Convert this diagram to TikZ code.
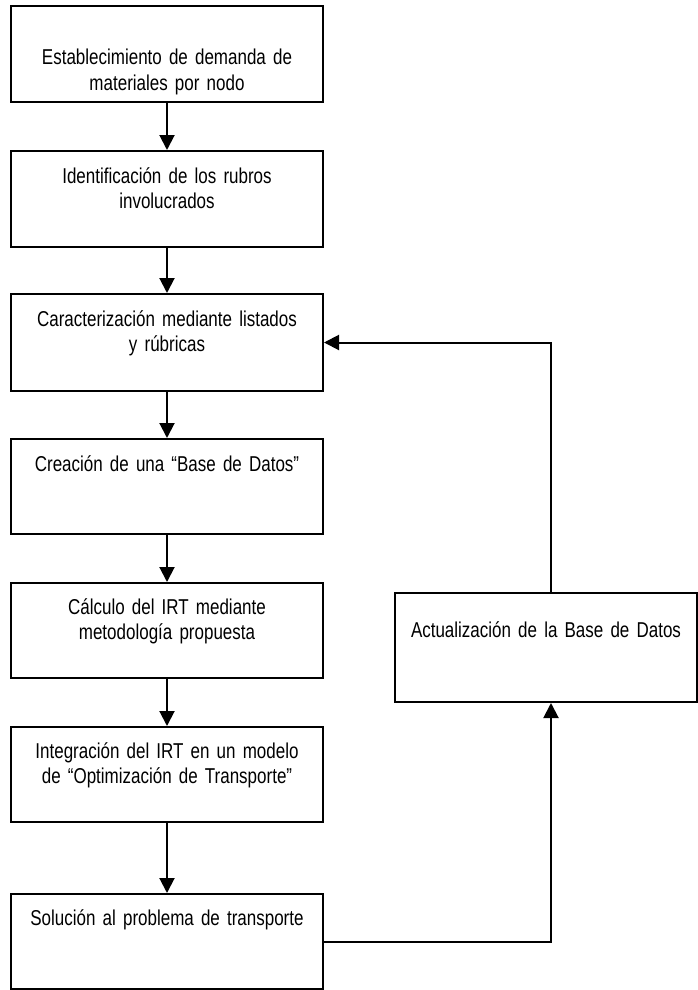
\documentclass[tikz,border=0pt]{standalone}
\usepackage{fontspec}
\setmainfont{Liberation Sans}[FakeStretch=0.79]
\usetikzlibrary{arrows.meta}
\begin{document}
\begin{tikzpicture}[x=1pt,y=-1pt,
  box/.style={draw,line width=2pt,rectangle,inner sep=0pt,minimum width=312pt},
  txt/.style={anchor=base,inner sep=0pt,text width=300pt,align=center,
    font=\fontsize{21.5}{25}\selectfont},
  arr/.style={line width=2pt,-{Triangle[length=15pt,width=15pt]}}]
\useasboundingbox (0,0) rectangle (698,990);

% main column of steps
\node[box,minimum height=96pt] (b1) at (167,54) {};
\node[box,minimum height=96pt] (b2) at (167,199) {};
\node[box,minimum height=97pt] (b3) at (167,342.5) {};
\node[box,minimum height=95pt] (b4) at (167,486.5) {};
\node[box,minimum height=95pt] (b5) at (167,630.5) {};
\node[box,minimum height=95pt] (b6) at (167,774.5) {};
\node[box,minimum height=95pt] (b7) at (167,941.5) {};
% side box of the feedback loop
\node[box,minimum width=302pt,minimum height=109pt] (b8) at (546,647.5) {};

\node[txt] (t1) at (167,65) {Establecimiento de demanda de\\materiales por nodo};
\node[txt] (t2) at (167,183) {Identificación de los rubros\\involucrados};
\node[txt] (t3) at (167,326) {Caracterización mediante listados\\y rúbricas};
\node[txt] (t4) at (167,471) {Creación de una “Base de Datos”};
\node[txt] (t5) at (167,614) {Cálculo del IRT mediante\\metodología propuesta};
\node[txt] (t6) at (167,758) {Integración del IRT en un modelo\\de “Optimización de Transporte”};
\node[txt] (t7) at (167,925) {Solución al problema de transporte};
\node[txt] (t8) at (546,637) {Actualización de la Base de Datos};

% downward flow
\draw[arr] (b1) -- (b2);
\draw[arr] (b2) -- (b3);
\draw[arr] (b3) -- (b4);
\draw[arr] (b4) -- (b5);
\draw[arr] (b5) -- (b6);
\draw[arr] (b6) -- (b7);

% feedback loop
\coordinate (fx) at (551,0);
\draw[arr] (b7.east) -| (b8.south -| fx);
\draw[arr] (b8.north -| fx) |- (b3.east);
\end{tikzpicture}
\end{document}
